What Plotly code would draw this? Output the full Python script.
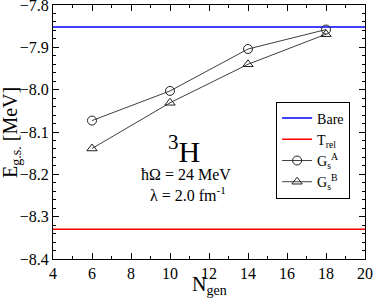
import plotly.graph_objects as go

n_gen = [6, 10, 14, 18]
gs_a = [-8.073, -8.003, -7.904, -7.858]
gs_b = [-8.139, -8.031, -7.940, -7.869]
x_range = [4, 20]
bare_val = -7.852
trel_val = -8.330

FONT = "Liberation Serif, Times New Roman, serif"
fig = go.Figure()
fig.add_trace(go.Scatter(x=x_range, y=[bare_val, bare_val], mode="lines",
                         line=dict(color="#0000ff", width=1.5), name="Bare"))
fig.add_trace(go.Scatter(x=x_range, y=[trel_val, trel_val], mode="lines",
                         line=dict(color="#ff0000", width=1.5), name="T<sub>rel</sub>"))
fig.add_trace(go.Scatter(x=n_gen, y=gs_a, mode="lines+markers",
                         line=dict(color="#404040", width=1),
                         marker=dict(symbol="circle-open", size=9, color="#202020", line=dict(width=1)),
                         name="G<sub>s</sub><sup>A</sup>"))
fig.add_trace(go.Scatter(x=n_gen, y=gs_b, mode="lines+markers",
                         line=dict(color="#404040", width=1),
                         marker=dict(symbol="triangle-up-open", size=9, color="#202020", line=dict(width=1)),
                         name="G<sub>s</sub><sup>B</sup>"))

axis_common = dict(showgrid=False, zeroline=False, showline=True, linecolor="black", linewidth=1,
                   mirror="allticks", ticks="inside", ticklen=6, tickcolor="black", automargin=False,
                   ticklabeloverflow="allow",
                   tickfont=dict(family=FONT, size=16, color="black"))
fig.update_xaxes(range=[4, 20], dtick=2, **axis_common,
                 minor=dict(ticks="inside", ticklen=3, dtick=1, tickcolor="black"))
fig.update_yaxes(range=[-8.4, -7.8], dtick=0.1, tickformat=".1f", **axis_common,
                 minor=dict(ticks="inside", ticklen=3, dtick=0.02, tickcolor="black"))

def ann(x, y, text, size, xanchor="center", textangle=0):
    fig.add_annotation(x=x, y=y, xref="paper", yref="paper", text=text, showarrow=False,
                       font=dict(family=FONT, size=size, color="black"),
                       xanchor=xanchor, yanchor="middle", textangle=textangle)

ann(0.42, 0.435, "<sup>3</sup>H", 30)
ann(0.576, 0.331, "ħΩ = 24 MeV", 16, xanchor="right")
ann(0.562, 0.256, "λ = 2.0 fm<sup>-1</sup>", 16, xanchor="right")
ann(0.5, -0.105, "N<sub>gen</sub>", 20)
ann(-0.135, 0.5, "E<sub>g.s.</sub> [MeV]", 20, textangle=-90)

fig.update_layout(width=374, height=298, margin=dict(l=53, r=9, t=5, b=39),
                  plot_bgcolor="white", paper_bgcolor="white", showlegend=True,
                  legend=dict(x=0.715, y=0.62, xanchor="left", yanchor="top",
                              bordercolor="black", borderwidth=1, bgcolor="white",
                              font=dict(family=FONT, size=14, color="black"),
                              itemwidth=30, tracegroupgap=0))
fig.write_html("out.html", config={"displayModeBar": False},
               post_script="document.body.style.margin='0';document.body.style.overflow='hidden';")
